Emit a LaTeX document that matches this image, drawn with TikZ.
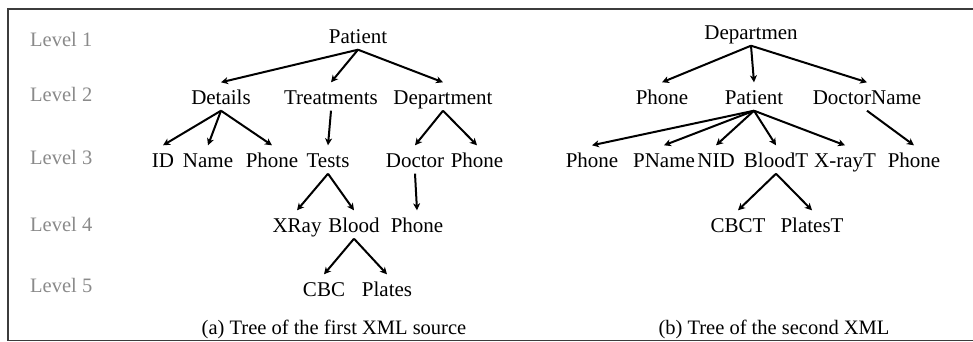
\documentclass[tikz,border=0pt]{standalone}
\usepackage{fontspec}
\setmainfont{Liberation Serif}
\usetikzlibrary{arrows.meta}
\definecolor{framec}{HTML}{3C3C3C}
\definecolor{levelc}{HTML}{8A8A8A}
\begin{document}
\begin{tikzpicture}[x=1pt,y=-1pt,
  tn/.style={font=\fontsize{21}{24}\selectfont, text height=18pt, text depth=3pt, inner ysep=3.5pt, inner xsep=0pt, anchor=base},
  lvl/.style={font=\fontsize{20.5}{24}\selectfont, text=levelc, inner sep=0pt, anchor=base west},
  captext/.style={font=\fontsize{20.5}{24}\selectfont, inner sep=0pt, anchor=base},
  arr/.style={line width=2pt, -{Stealth[length=7pt,width=7pt,inset=2pt]}}
]
\useasboundingbox (0,0) rectangle (973,341);
\draw[line width=1.3pt, framec] (973,9) -- (8,9) -- (8,340.5) -- (973,340.5);

% level labels
\node[lvl] (l1) at (30,46) {Level 1};
\node[lvl] (l2) at (30,101) {Level 2};
\node[lvl] (l3) at (30,164) {Level 3};
\node[lvl] (l4) at (30,231) {Level 4};
\node[lvl] (l5) at (30,292) {Level 5};

% left tree
\node[tn] (pat) at (358,43) {Patient};
\node[tn] (det) at (221,104) {Details};
\node[tn] (trt) at (331,104) {Treatments};
\node[tn] (dep) at (443,104) {Department};
\node[tn] (id) at (163,167) {ID};
\node[tn] (nam) at (208,167) {Name};
\node[tn] (ph1) at (272,167) {Phone};
\node[tn] (tst) at (328,167) {Tests};
\node[tn] (doc) at (415,167) {Doctor};
\node[tn] (ph2) at (477,167) {Phone};
\node[tn] (xr) at (297,232) {XRay};
\node[tn] (bld) at (354,232) {Blood};
\node[tn] (ph3) at (417,232) {Phone};
\node[tn] (cbc) at (324,296) {CBC};
\node[tn] (plt) at (387,296) {Plates};

\draw[arr] (pat.south) -- (det.north);
\draw[arr] (pat.south) -- (trt.north);
\draw[arr] (pat.south) -- (dep.north);
\draw[arr] (det.south) -- (id.north);
\draw[arr] (det.south) -- (nam.north);
\draw[arr] (det.south) -- (ph1.north);
\draw[arr] (trt.south) -- (tst.north);
\draw[arr] (dep.south) -- (doc.north);
\draw[arr] (dep.south) -- (ph2.north);
\draw[arr] (tst.south) -- (xr.north);
\draw[arr] (tst.south) -- (bld.north);
\draw[arr] (doc.south) -- (ph3.north);
\draw[arr] (bld.south) -- (cbc.north);
\draw[arr] (bld.south) -- (plt.north);

\node[captext] (capa) at (334,334) {(a) Tree of the first XML source};

% right tree
\node[tn] (rdep) at (751,39) {Departmen};
\node[tn] (rph) at (662,104) {Phone};
\node[tn] (rpat) at (754,104) {Patient};
\node[tn] (rdn) at (867,104) {DoctorName};
\node[tn] (rph1) at (592,167) {Phone};
\node[tn] (rpn) at (664,167) {PName};
\node[tn] (rnid) at (716,167) {NID};
\node[tn] (rbt) at (776,167) {BloodT};
\node[tn] (rxt) at (845,167) {X-rayT};
\node[tn] (rph2) at (914,167) {Phone};
\node[tn] (rcbc) at (738,232) {CBCT};
\node[tn] (rplt) at (812,232) {PlatesT};

\draw[arr] (rdep.south) -- (rph.north);
\draw[arr] (rdep.south) -- (rpat.north);
\draw[arr] (rdep.south) -- (rdn.north);
\draw[arr] (rpat.south) -- (rph1.north);
\draw[arr] (rpat.south) -- (rpn.north);
\draw[arr] (rpat.south) -- (rnid.north);
\draw[arr] (rpat.south) -- (rbt.north);
\draw[arr] (rpat.south) -- (rxt.north);
\draw[arr] (rdn.south) -- (rph2.north);
\draw[arr] (rbt.south) -- (rcbc.north);
\draw[arr] (rbt.south) -- (rplt.north);

\node[captext] (capb) at (774,334) {(b) Tree of the second XML};
\end{tikzpicture}
\end{document}
